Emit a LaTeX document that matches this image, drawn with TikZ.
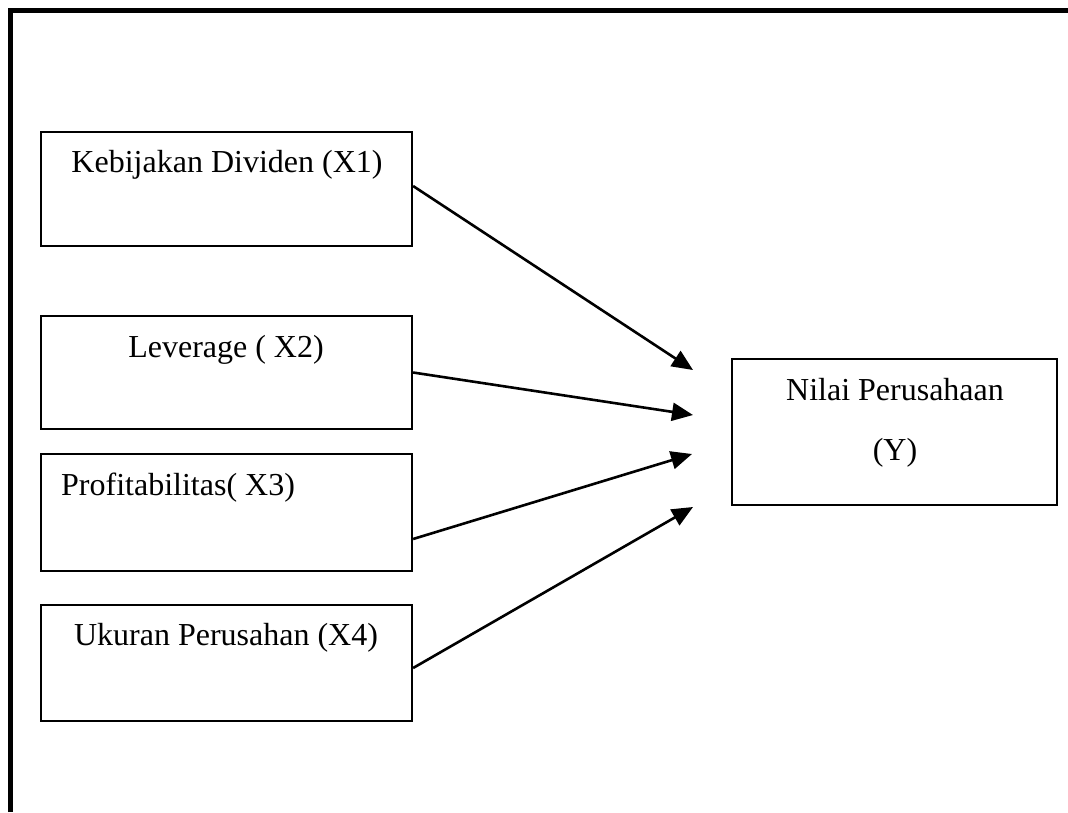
\documentclass[tikz,border=0pt]{standalone}
\usepackage{fontspec}
\setmainfont{Liberation Serif}
\usetikzlibrary{arrows.meta}

\begin{document}
\begin{tikzpicture}[x=1pt,y=-1pt,
  kotak/.style={draw,line width=2.2pt,inner sep=0,minimum width=371pt},
  teks/.style={inner sep=0,font=\fontsize{32}{38}\selectfont},
  panah/.style={line width=2.6pt,-{Triangle[length=21pt,width=18pt]}}]
\useasboundingbox (0,0) rectangle (1068,812);
\draw[line width=5pt] (10,812) -- (10,10.5) -- (1068,10.5);
\node[kotak,minimum height=114pt] (b1) at (226.5,189) {};
\node[kotak,minimum height=113pt] (b2) at (226.5,372.5) {};
\node[kotak,minimum height=117pt] (b3) at (226.5,512.5) {};
\node[kotak,minimum height=116pt] (b4) at (226.5,663) {};
\node[kotak,minimum width=325pt,minimum height=146pt] (y) at (894.5,432) {};
\node[teks,anchor=base] (t1) at (227,172) {Kebijakan Dividen (X1)};
\node[teks,anchor=base] (t2) at (226,357) {Leverage ( X2)};
\node[teks,anchor=base west] (t3) at (61,495) {Profitabilitas( X3)};
\node[teks,anchor=base] (t4) at (226,645) {Ukuran Perusahan (X4)};
\node[teks,anchor=base] (ty1) at (895,400) {Nilai Perusahaan};
\node[teks,anchor=base] (ty2) at (895,460) {(Y)};
\coordinate (e1) at (693,370);
\coordinate (e2) at (693,415);
\coordinate (e3) at (692,454);
\coordinate (e4) at (693,507);
\draw[panah] ([yshift=3pt]b1.east) -- (e1);
\draw[panah] (b2.east) -- (e2);
\draw[panah] ([yshift=-26.5pt]b3.east) -- (e3);
\draw[panah] ([yshift=-5pt]b4.east) -- (e4);
\end{tikzpicture}
\end{document}
